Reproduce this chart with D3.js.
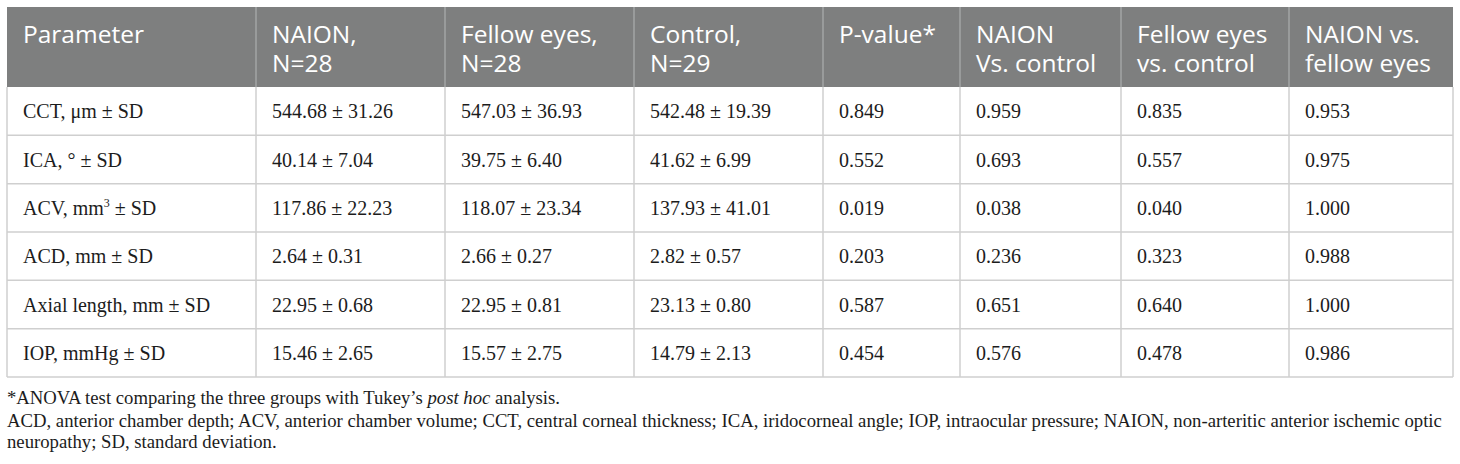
<!DOCTYPE html>
<html>
<head>
<meta charset="utf-8">
<script src="https://cdn.jsdelivr.net/npm/d3@7/dist/d3.min.js"></script>
<style>
  html, body { margin: 0; padding: 0; background: #ffffff; }
  svg { display: block; }
</style>
</head>
<body>
<svg id="chart" width="1460" height="464"></svg>
<script>
// ---------- DATA ----------
const headers = [
  ["Parameter"],
  ["NAION,", "N=28"],
  ["Fellow eyes,", "N=28"],
  ["Control,", "N=29"],
  ["P-value*"],
  ["NAION", "Vs. control"],
  ["Fellow eyes", "vs. control"],
  ["NAION vs.", "fellow eyes"]
];
const parameters = ["CCT, μm ± SD", "ICA, ° ± SD", "ACV, mm^3 ± SD", "ACD, mm ± SD", "Axial length, mm ± SD", "IOP, mmHg ± SD"];
const naionMean   = [544.68, 40.14, 117.86, 2.64, 22.95, 15.46];
const naionSD     = [31.26, 7.04, 22.23, 0.31, 0.68, 2.65];
const fellowMean  = [547.03, 39.75, 118.07, 2.66, 22.95, 15.57];
const fellowSD    = [36.93, 6.40, 23.34, 0.27, 0.81, 2.75];
const controlMean = [542.48, 41.62, 137.93, 2.82, 23.13, 14.79];
const controlSD   = [19.39, 6.99, 41.01, 0.57, 0.80, 2.13];
const pValue          = [0.849, 0.552, 0.019, 0.203, 0.587, 0.454];
const naionVsControl  = [0.959, 0.693, 0.038, 0.236, 0.651, 0.576];
const fellowVsControl = [0.835, 0.557, 0.040, 0.323, 0.640, 0.478];
const naionVsFellow   = [0.953, 0.975, 1.000, 0.988, 1.000, 0.986];
const footnotes = [
  [["*ANOVA test comparing the three groups with Tukey’s ", false], ["post hoc", true], [" analysis.", false]],
  [["ACD, anterior chamber depth; ACV, anterior chamber volume; CCT, central corneal thickness; ICA, iridocorneal angle; IOP, intraocular pressure; NAION, non-arteritic anterior ischemic optic", false]],
  [["neuropathy; SD, standard deviation.", false]]
];

// ---------- LAYOUT / STYLE ----------
const colWidths = [249, 189, 189, 189, 137, 161, 168, 164];
const tableLeft = 7, tableTop = 7, headerBottom = 87, tableBottom = 377;
const padX = 16;
const headerBg = "#7e7f7f", headerSep = "#a3a4a4", gridColor = "#cfcfcf";
const textColor = "#1c1c1c";
const sansFont = "'Open Sans', sans-serif";
const serifFont = "'Liberation Serif', 'Times New Roman', serif";
const footWidthTarget = 1436;

const fmt2 = d3.format(".2f"), fmt3 = d3.format(".3f");
const rows = parameters.map((p, i) => [
  p,
  `${fmt2(naionMean[i])} ± ${fmt2(naionSD[i])}`,
  `${fmt2(fellowMean[i])} ± ${fmt2(fellowSD[i])}`,
  `${fmt2(controlMean[i])} ± ${fmt2(controlSD[i])}`,
  fmt3(pValue[i]),
  fmt3(naionVsControl[i]),
  fmt3(fellowVsControl[i]),
  fmt3(naionVsFellow[i])
]);

const colEdges = [tableLeft];
colWidths.forEach(w => colEdges.push(colEdges[colEdges.length - 1] + w));
const tableRight = colEdges[colEdges.length - 1];

const x = d3.scaleOrdinal().domain(d3.range(colWidths.length)).range(colEdges.slice(0, -1));
const y = d3.scaleBand().domain(d3.range(rows.length)).range([headerBottom, tableBottom]);

const svg = d3.select("#chart");

// Header background
svg.append("rect")
  .attr("x", tableLeft).attr("y", tableTop)
  .attr("width", tableRight - tableLeft).attr("height", headerBottom - tableTop)
  .attr("fill", headerBg);

// Header separators
svg.append("g").selectAll("line").data(colEdges.slice(1, -1)).join("line")
  .attr("x1", d => d).attr("x2", d => d)
  .attr("y1", tableTop).attr("y2", headerBottom)
  .attr("stroke", headerSep).attr("stroke-width", 1.5);

// Body grid: horizontal lines
svg.append("g").selectAll("line").data(d3.range(rows.length)).join("line")
  .attr("x1", tableLeft).attr("x2", tableRight)
  .attr("y1", d => y(d) + y.bandwidth()).attr("y2", d => y(d) + y.bandwidth())
  .attr("stroke", gridColor).attr("stroke-width", 1.5);

// Body grid: vertical lines
svg.append("g").selectAll("line").data(colEdges).join("line")
  .attr("x1", d => d).attr("x2", d => d)
  .attr("y1", headerBottom).attr("y2", tableBottom)
  .attr("stroke", gridColor).attr("stroke-width", 1.5);

// Header texts (one text per line)
const hg = svg.append("g")
  .attr("font-family", sansFont).attr("font-size", 24.5).attr("fill", "#ffffff");
headers.forEach((lines, c) => {
  lines.forEach((ln, k) => {
    hg.append("text")
      .attr("x", x(c) + padX)
      .attr("y", tableTop + 36 + k * 29)
      .text(ln);
  });
});

// Body texts
const bg = svg.append("g")
  .attr("font-family", serifFont).attr("font-size", 20).attr("fill", textColor);
rows.forEach((r, ri) => {
  r.forEach((cell, c) => {
    const t = bg.append("text")
      .attr("x", x(c) + padX)
      .attr("y", y(ri) + y.bandwidth() / 2 + 7);
    if (cell.includes("^")) {
      const [pre, rest] = cell.split("^");
      t.append("tspan").text(pre);
      t.append("tspan").attr("font-size", 12).attr("dy", -8).text(rest[0]);
      t.append("tspan").attr("dy", 8).text(rest.slice(1));
    } else {
      t.text(cell);
    }
  });
});

// Footnotes
const fg = svg.append("g")
  .attr("font-family", serifFont).attr("font-size", 20).attr("fill", textColor);
const footY = [404, 427, 448];
const footTexts = footnotes.map((parts, i) => {
  const t = fg.append("text").attr("x", tableLeft).attr("y", footY[i]);
  parts.forEach(([s, it]) => {
    t.append("tspan").attr("font-style", it ? "italic" : "normal").text(s);
  });
  return t;
});
// Fit the footnote font so the longest line spans the table width
const longest = d3.max(footTexts, t => t.node().getComputedTextLength());
if (longest > 0) fg.attr("font-size", 20 * footWidthTarget / longest);
</script>
</body>
</html>
